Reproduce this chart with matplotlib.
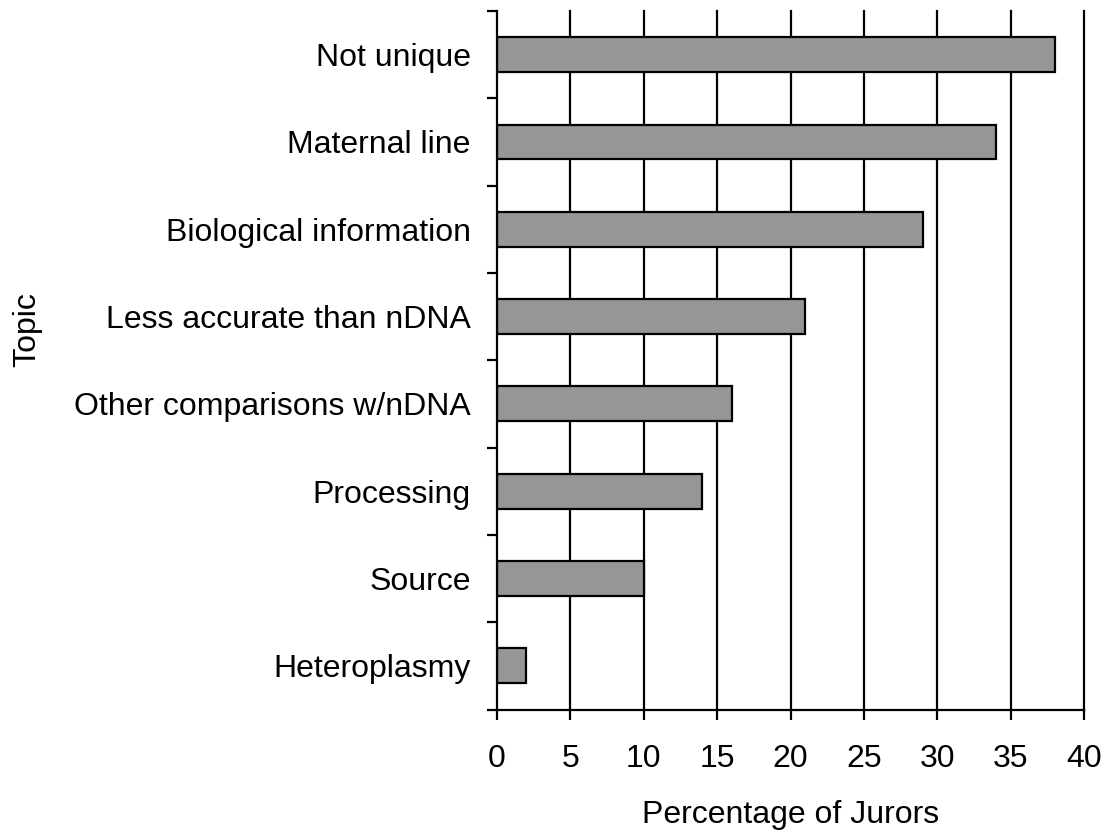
import matplotlib
matplotlib.use("Agg")
import matplotlib.pyplot as plt
import numpy as np

categories = ["Heteroplasmy", "Source", "Processing", "Other comparisons w/nDNA",
              "Less accurate than nDNA", "Biological information", "Maternal line", "Not unique"]
values = [2, 10, 14, 16, 21, 29, 34, 38]
xticks = [0, 5, 10, 15, 20, 25, 30, 35, 40]

plt.rcParams['font.family'] = ['Liberation Sans', 'DejaVu Sans']

fig = plt.figure(figsize=(11.07, 8.34), dpi=100)
ax = fig.add_axes([497/1107, 1-709.5/834, (1084-497)/1107, (709.5-11)/834])

y = np.arange(len(categories))
for xv in xticks[1:]:
    ax.axvline(xv, color='black', lw=1.6, zorder=1, clip_on=False)
ax.barh(y, values, height=0.4, color='#969696', edgecolor='black', linewidth=1.6, zorder=2)

ax.set_xlim(0, 40)
ax.set_ylim(-0.5, len(categories) - 0.5)
ax.set_xticks(xticks)
ax.set_xticklabels([str(v) for v in xticks], fontsize=23)
ax.set_yticks(y)
ax.set_yticklabels(categories, fontsize=23)
ax.set_yticks(np.arange(-0.5, len(categories), 1.0), minor=True)
ax.tick_params(axis='y', which='major', length=0, pad=19)
ax.tick_params(axis='y', which='minor', length=7.5, width=1.6)
ax.tick_params(axis='x', which='major', length=7.5, width=1.6, pad=17)

for s in ['top', 'right']:
    ax.spines[s].set_visible(False)
for s in ['left', 'bottom']:
    ax.spines[s].set_linewidth(1.6)

ax.set_xlabel("Percentage of Jurors", fontsize=23, labelpad=19)
ax.set_ylabel("Topic", fontsize=23)
ax.yaxis.set_label_coords(-0.775, (709.5-330)/698.5)

fig.savefig("out.png", dpi=100)
